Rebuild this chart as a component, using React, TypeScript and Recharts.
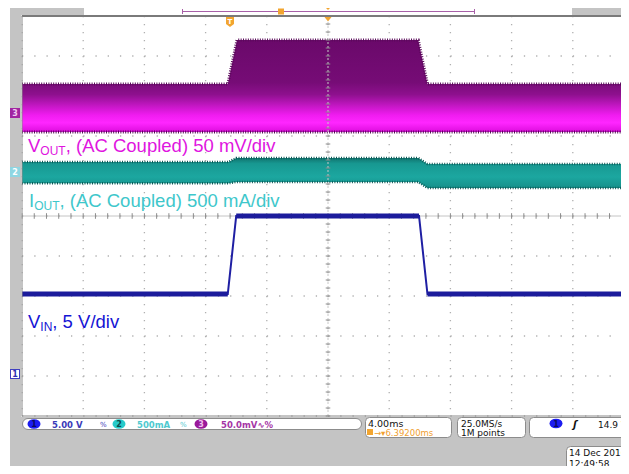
import React from "react"
import {
  ComposedChart,
  Area,
  Line,
  XAxis,
  YAxis,
  CartesianGrid,
  ReferenceLine,
} from "recharts"

// horizontal: ms across 10 divisions (4 ms/div); vertical: screen divisions, 0 = bottom
const majorX = [0, 4, 8, 12, 16, 20, 24, 28, 32, 36, 40]
const majorY = [0, 1, 2, 3, 4, 5, 6, 7, 8, 9, 10]
const minorX = Array.from({ length: 51 }, (_, i) => +(i * 0.8).toFixed(2))
const minorY = Array.from({ length: 51 }, (_, i) => +(i * 0.2).toFixed(2))

// ch3 VOUT (AC coupled) – envelope of the ripple band
const voutT = [0, 13.45, 14.05, 25.9, 26.5, 40]
const voutLow = [7.1, 7.1, 7.1, 7.1, 7.1, 7.1]
const voutHigh = [8.3, 8.3, 9.4, 9.4, 8.3, 8.3]

// ch2 IOUT (AC coupled)
const ioutT = [0, 13.5, 14.0, 25.9, 26.5, 40]
const ioutLow = [5.82, 5.82, 5.85, 5.85, 5.7, 5.7]
const ioutHigh = [6.35, 6.35, 6.45, 6.45, 6.3, 6.3]

// ch1 VIN step
const vinT = [0, 13.45, 14.0, 25.95, 26.5, 40]
const vinLevel = [3.05, 3.05, 5.0, 5.0, 3.05, 3.05]

const voutData = voutT.map((t, i) => ({ t, vout: [voutLow[i], voutHigh[i]] }))
const ioutData = ioutT.map((t, i) => ({ t, iout: [ioutLow[i], ioutHigh[i]] }))
const vinData = vinT.map((t, i) => ({ t, vin: vinLevel[i] }))

const GRID = "#b0b0b0"
const FRAME = "#8a8a8a"
const BEZEL = "#c4c4c4"
const MONO = "'DejaVu Sans', sans-serif"
const ARIAL = "'Liberation Sans', Arial, sans-serif"

function Badge({ cx, cy, fill, label, color }: { cx: number; cy: number; fill: string; label: string; color: string }) {
  return (
    <g>
      <ellipse cx={cx} cy={cy} rx={6.5} ry={4.8} fill={fill} />
      <text x={cx} y={cy + 3} textAnchor="middle" fontSize={8} fontWeight="bold" fill={color}>
        {label}
      </text>
    </g>
  )
}

export default function App() {
  return (
    <div
      style={{
        position: "relative",
        width: 629,
        height: 474,
        margin: -8,
        overflow: "hidden",
        backgroundColor: "#ffffff",
        fontFamily: MONO,
      }}
    >
      <div style={{ position: "absolute", left: 0, top: 0 }}>
        <ComposedChart width={640} height={474} margin={{ top: 16, right: 6, bottom: 58, left: 22 }}>
          <defs>
            <linearGradient id="voutFill" gradientUnits="userSpaceOnUse" x1="0" y1="40" x2="0" y2="134">
              <stop offset="0" stopColor="#6a096a" />
              <stop offset="0.45" stopColor="#760c76" />
              <stop offset="0.58" stopColor="#8e108e" />
              <stop offset="0.7" stopColor="#c417c4" />
              <stop offset="0.8" stopColor="#f01cf0" />
              <stop offset="0.88" stopColor="#ff26ff" />
              <stop offset="0.96" stopColor="#e312e3" />
              <stop offset="1" stopColor="#a008a0" />
            </linearGradient>
            <linearGradient id="ioutFill" gradientUnits="userSpaceOnUse" x1="0" y1="157" x2="0" y2="190">
              <stop offset="0" stopColor="#0f6d68" />
              <stop offset="0.2" stopColor="#179891" />
              <stop offset="0.6" stopColor="#1ca7a0" />
              <stop offset="0.9" stopColor="#16938d" />
              <stop offset="1" stopColor="#0f6d68" />
            </linearGradient>
          </defs>

          <XAxis xAxisId="t" dataKey="t" type="number" domain={[0, 40]} ticks={majorX} hide allowDataOverflow />
          <YAxis yAxisId="v" type="number" domain={[0, 10]} ticks={majorY} hide allowDataOverflow />

          <CartesianGrid
            xAxisId="t"
            yAxisId="v"
            horizontal={false}
            stroke={GRID}
            strokeWidth={1.3}
            strokeDasharray="1.3 6.7"
          />
          <CartesianGrid
            xAxisId="t"
            yAxisId="v"
            vertical={false}
            stroke={GRID}
            strokeWidth={1.3}
            strokeDasharray="1.3 10.94"
          />

          {/* frame ticks */}
          <XAxis
            xAxisId="top"
            orientation="top"
            type="number"
            domain={[0, 40]}
            ticks={minorX}
            interval={0}
            mirror
            tick={false}
            tickSize={3}
            axisLine={{ stroke: "#7a7a7a", strokeWidth: 2 }}
            tickLine={{ stroke: FRAME }}
          />
          <XAxis
            xAxisId="bottom"
            orientation="bottom"
            type="number"
            domain={[0, 40]}
            ticks={minorX}
            interval={0}
            mirror
            tick={false}
            tickSize={3}
            axisLine={{ stroke: FRAME }}
            tickLine={{ stroke: FRAME }}
          />
          <YAxis
            yAxisId="left"
            orientation="left"
            type="number"
            domain={[0, 10]}
            ticks={minorY}
            interval={0}
            mirror
            tick={false}
            tickSize={3}
            axisLine={{ stroke: FRAME }}
            tickLine={{ stroke: FRAME }}
          />

          {/* centre cross-hair with its minor ticks */}
          <ReferenceLine xAxisId="t" yAxisId="v" x={20} stroke="#c8c8c8" strokeDasharray="2 2" />
          <ReferenceLine xAxisId="t" yAxisId="v" y={5} stroke="#c4c4c4" />
          {minorX.map((t) => (
            <ReferenceLine
              key={"cx" + t}
              xAxisId="t"
              yAxisId="v"
              segment={[
                { x: t, y: 4.93 },
                { x: t, y: 5.07 },
              ]}
              stroke="#8c8c8c"
            />
          ))}
          {minorY.map((v) => (
            <ReferenceLine
              key={"cy" + v}
              xAxisId="t"
              yAxisId="v"
              segment={[
                { x: 19.85, y: v },
                { x: 20.15, y: v },
              ]}
              stroke="#8c8c8c"
            />
          ))}

          <Area
            xAxisId="t"
            yAxisId="v"
            data={voutData}
            dataKey="vout"
            type="linear"
            fill="url(#voutFill)"
            fillOpacity={1}
            stroke="#5a0a5a"
            strokeWidth={3}
            strokeDasharray="1 1.4"
            isAnimationActive={false}
          />
          <Area
            xAxisId="t"
            yAxisId="v"
            data={ioutData}
            dataKey="iout"
            type="linear"
            fill="url(#ioutFill)"
            fillOpacity={1}
            stroke="#0b5c58"
            strokeWidth={2.5}
            strokeDasharray="1 1.5"
            isAnimationActive={false}
          />
          <Line
            xAxisId="t"
            yAxisId="v"
            data={vinData}
            dataKey="vin"
            type="linear"
            stroke="#1f1fa3"
            strokeWidth={2}
            dot={false}
            isAnimationActive={false}
          />
          {[0, 2, 4].map((s) => (
            <Line
              key={"flat" + s}
              xAxisId="t"
              yAxisId="v"
              data={vinData.slice(s, s + 2)}
              dataKey="vin"
              type="linear"
              stroke="#1c1c9c"
              strokeWidth={5}
              dot={false}
              isAnimationActive={false}
            />
          ))}
        </ComposedChart>
      </div>

      <svg
        width={629}
        height={474}
        style={{ position: "absolute", left: 0, top: 0, pointerEvents: "none", fontFamily: MONO }}
      >
        {/* scope bezel around the graticule and the record bar */}
        <rect x={10} y={417} width={619} height={57} fill={BEZEL} />
        <rect x={10} y={7} width={11.5} height={410} fill={BEZEL} />
        <rect x={21} y={7} width={63} height={8} fill={BEZEL} />
        <rect x={572} y={7} width={57} height={8} fill={BEZEL} />

        {/* record-length bar */}
        <line x1={182} x2={475} y1={11.5} y2={11.5} stroke="#a860a8" strokeWidth={1} />
        <line x1={182.5} x2={182.5} y1={9} y2={14} stroke="#a860a8" />
        <line x1={474.5} x2={474.5} y1={9} y2={14} stroke="#a860a8" />
        <rect x={278} y={8.5} width={6} height={6} fill="#f2a530" />
        <polygon points="325,7 331,7 328,10" fill="#f2a530" />

        {/* trigger markers */}
        <polygon points="324.5,17 331.5,17 328,21.5" fill="#f2a530" />
        <path d="M226,17 h8 v7 l-4,3 l-4,-3 z" fill="#f2a530" />
        <text x={230} y={24} textAnchor="middle" fontSize={7} fontWeight="bold" fill="#fff">
          T
        </text>
        <polygon points="622,256 629,251.5 629,260.5" fill="#2323d6" />

        {/* channel ground markers */}
        <rect x={10} y={108} width={10} height={10} fill="#a025a0" />
        <text x={15} y={116} textAnchor="middle" fontSize={8} fontWeight="bold" fill="#f0c8f0">
          3
        </text>
        <rect x={10} y={167} width={10} height={10} fill="#8fd6e2" />
        <text x={15} y={175} textAnchor="middle" fontSize={8} fontWeight="bold" fill="#ffffff">
          2
        </text>
        <rect x={10.5} y={369.5} width={9} height={9} fill="#ffffff" stroke="#4040c0" />
        <text x={15} y={377} textAnchor="middle" fontSize={8} fontWeight="bold" fill="#3030b0">
          1
        </text>

        {/* trace annotations */}
        <text x={28} y={152} fontFamily={ARIAL} fontSize={18.5} fill="#e014e0">
          V<tspan fontSize={12} dy={3}>OUT</tspan>
          <tspan dy={-3}>, (AC Coupled) 50 mV/div</tspan>
        </text>
        <text x={29} y={207} fontFamily={ARIAL} fontSize={18.5} fill="#3ec7cb">
          I<tspan fontSize={12} dy={3}>OUT</tspan>
          <tspan dy={-3}>, (AC Coupled) 500 mA/div</tspan>
        </text>
        <text x={28} y={328} fontFamily={ARIAL} fontSize={18.5} fill="#1414d4">
          V<tspan fontSize={12} dy={3}>IN</tspan>
          <tspan dy={-3}>, 5 V/div</tspan>
        </text>

        {/* status bar */}
        <rect x={22.5} y={418.5} width={339} height={11} rx={5.5} fill="#fff" stroke="#8c8c8c" />
        <Badge cx={34} cy={424} fill="#1c1cf0" label="1" color="#0a0a60" />
        <text x={52} y={427.5} fontSize={8.5} fontWeight="bold" fill="#3a3ab8">
          5.00 V
        </text>
        <text x={100} y={427} fontSize={7} fill="#3a3ab8">
          %
        </text>
        <Badge cx={119} cy={424} fill="#26caca" label="2" color="#0c4c4c" />
        <text x={137} y={427.5} fontSize={8.5} fontWeight="bold" fill="#4fc9cf">
          500mA
        </text>
        <text x={180} y={427} fontSize={7} fill="#4fc9cf">
          %
        </text>
        <Badge cx={201} cy={424} fill="#9a1a9a" label="3" color="#f0c0f0" />
        <text x={221} y={427.5} fontSize={8.5} fontWeight="bold" fill="#a535a5">
          50.0mV∿%
        </text>

        <rect x={365.5} y={417.5} width={86} height={20} rx={4} fill="#fff" stroke="#8c8c8c" />
        <text x={368} y={427} fontSize={9.5} fill="#111">
          4.00ms
        </text>
        <rect x={367} y={429} width={6} height={6} fill="#f2a530" />
        <text x={374} y={435.5} fontSize={8.5} fill="#f0a030">
          →▾6.39200ms
        </text>

        <rect x={457.5} y={417.5} width={68} height={20} rx={4} fill="#fff" stroke="#8c8c8c" />
        <text x={461} y={426.5} fontSize={9} fill="#111">
          25.0MS/s
        </text>
        <text x={461} y={436} fontSize={9} fill="#111">
          1M points
        </text>

        <rect x={529.5} y={417.5} width={110} height={20} rx={4} fill="#fff" stroke="#8c8c8c" />
        <Badge cx={556} cy={423.5} fill="#1c1cf0" label="1" color="#0a0a60" />
        <text x={573} y={427.5} fontSize={10} fontStyle="italic" fontWeight="bold" fill="#111">
          ʃ
        </text>
        <text x={598} y={427.5} fontSize={9} fill="#111">
          14.9 V
        </text>

        <rect x={566.5} y={446.5} width={80} height={30} rx={4} fill="#fff" stroke="#8c8c8c" />
        <text x={569} y={456} fontSize={9} fill="#111">
          14 Dec 2016
        </text>
        <text x={569} y={467} fontSize={9} fill="#111">
          12:49:58
        </text>
      </svg>
    </div>
  )
}
